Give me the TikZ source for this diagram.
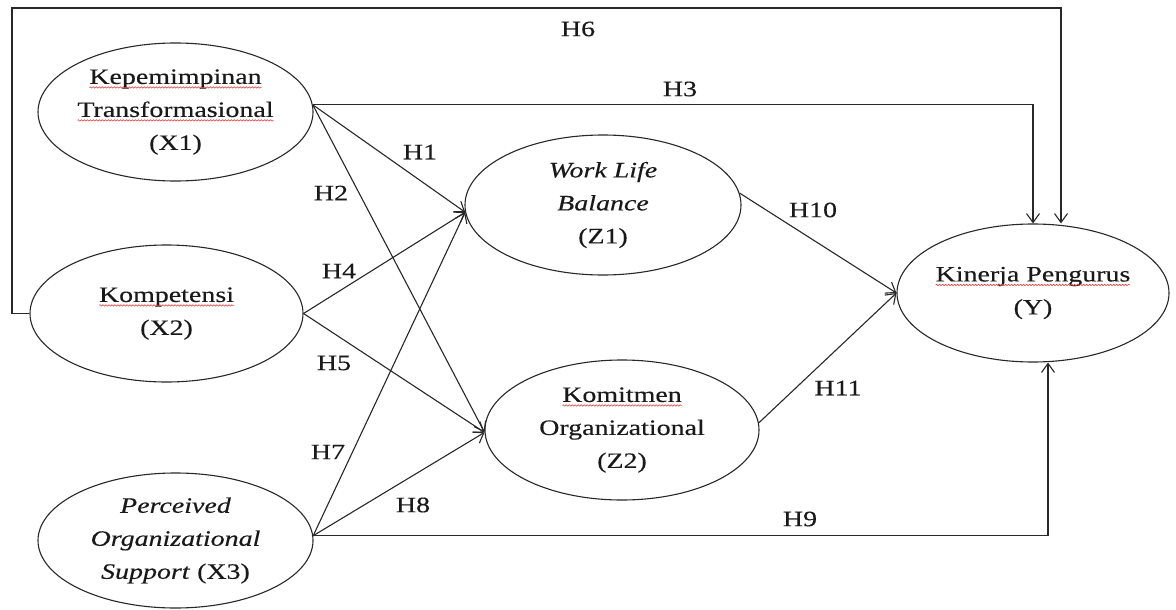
\documentclass[tikz,border=0pt]{standalone}
\usepackage{fontspec}
\setmainfont{Liberation Serif}[FakeStretch=1.27,FakeBold=0.3]
\usetikzlibrary{arrows.meta,shapes.geometric,decorations.pathmorphing}

\definecolor{ink}{RGB}{40,40,40}
\definecolor{spell}{RGB}{220,70,70}

% word with a red wavy underline
\newcommand\spellmark[1]{\tikz[baseline=(sw.base)]{%
  \node[rectangle,draw=none,fill=none,minimum size=0pt,inner sep=0pt,outer sep=0pt](sw){#1};
  \draw[spell,line width=0.6pt,decorate,decoration={snake,amplitude=0.7pt,segment length=3pt}]
    ([yshift=-3.5pt]sw.base west) -- ([yshift=-3.5pt]sw.base east);}}

\tikzset{
  var/.style={ellipse,draw=ink,line width=1.1pt,inner xsep=-12pt,inner ysep=0pt,
    align=center,font=\fontsize{22}{33}\selectfont,text=black!90},
  hyp/.style={font=\fontsize{22}{26}\selectfont,inner sep=1pt,text=black!90},
  arr/.style={draw=ink,line width=1.1pt,-{Straight Barb[length=9pt,width=13pt,line width=1.1pt]}},
}

\begin{document}
\begin{tikzpicture}[x=1pt,y=-1pt]
\fill[white] (0,0) rectangle (1176,610);
\useasboundingbox (0,0) rectangle (1176,610);

% constructs
\node[var,minimum width=275pt,minimum height=138pt] (X1) at (175.5,112)
  {\spellmark{Kepemimpinan}\\\spellmark{Transformasional}\\(X1)};
\node[var,minimum width=273pt,minimum height=137pt] (X2) at (166.5,313.5)
  {\spellmark{Kompetensi}\\(X2)};
\node[var,minimum width=275pt,minimum height=135pt] (X3) at (175.5,540.5)
  {\textit{Perceived}\\\textit{Organizational}\\\textit{Support} (X3)};
\node[var,minimum width=276pt,minimum height=140pt] (Z1) at (603,205)
  {\textit{Work Life}\\\textit{Balance}\\(Z1)};
\node[var,minimum width=274pt,minimum height=140pt] (Z2) at (622,430)
  {\spellmark{Komitmen}\\Organizational\\(Z2)};
\node[var,minimum width=272pt,minimum height=138pt] (Y) at (1033,293)
  {\spellmark{Kinerja Pengurus}\\(Y)};

% corner points of the routed paths
\coordinate (c6a) at (12,8);
\coordinate (c6b) at (1061,8);
\coordinate (c9) at (1048,537);

% paths
\draw[arr] (X2.west) -| (c6a) -- (c6b) -- (c6b |- Y.north);
\draw[arr] (X1.3) -| (Y.north);
\draw[arr] (X3.2) -| (c9 |- Y.south);
\draw[arr] (X1.3) -- (Z1.183);
\draw[arr] (X1.3) -- (Z2.181);
\draw[arr] (X2.east) -- (Z1.183);
\draw[arr] (X2.east) -- (Z2.181);
\draw[arr] (X3.2) -- (Z1.183);
\draw[arr] (X3.2) -- (Z2.181);
\draw[arr] (Z1.5) -- (Y.west);
\draw[arr] (Z2.3) -- (Y.west);

% hypothesis labels
\node[hyp] (lH6) at (578,29) {H6};
\node[hyp] (lH3) at (680,89) {H3};
\node[hyp] (lH1) at (420,152) {H1};
\node[hyp] (lH2) at (331,193) {H2};
\node[hyp] (lH4) at (339,271) {H4};
\node[hyp] (lH5) at (334,363) {H5};
\node[hyp] (lH7) at (328,452) {H7};
\node[hyp] (lH8) at (413,505) {H8};
\node[hyp] (lH9) at (800,519) {H9};
\node[hyp] (lH10) at (813,210) {H10};
\node[hyp] (lH11) at (838,388) {H11};
\end{tikzpicture}
\end{document}
